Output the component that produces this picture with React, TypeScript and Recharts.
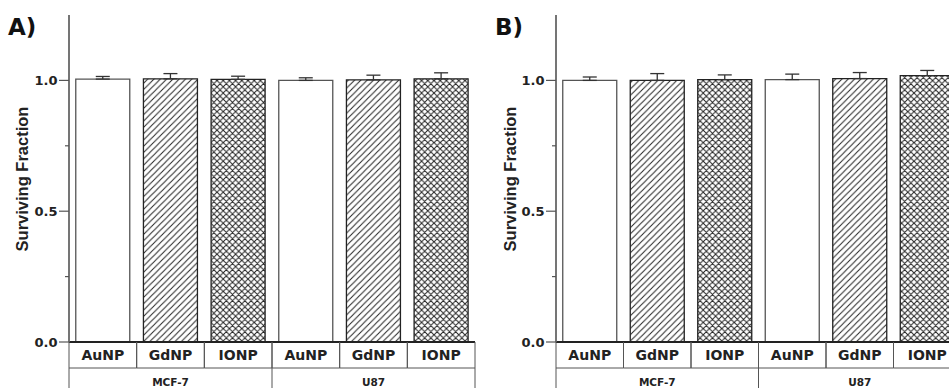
import React from 'react';
import { BarChart, Bar, XAxis, YAxis, ErrorBar, Cell } from 'recharts';

const categories = ['AuNP', 'GdNP', 'IONP', 'AuNP', 'GdNP', 'IONP'];
const cellLines = ['MCF-7', 'U87'];
const valuesA = [1.005, 1.006, 1.004, 1.0, 1.002, 1.006];
const errA = [0.01, 0.02, 0.012, 0.01, 0.018, 0.023];
const valuesB = [1.0, 1.0, 1.003, 1.003, 1.007, 1.018];
const errB = [0.013, 0.026, 0.018, 0.021, 0.023, 0.02];
const yTicks = [0, 0.25, 0.5, 0.75, 1.0];
const majorTicks = [0, 0.5, 1.0];

const FONT = '"DejaVu Sans", sans-serif';
const TITLE_FONT = '"Liberation Sans", Arial, sans-serif';
const H = 388;
const TOP = 15;
const XH = 46;

const build = (vals: number[], errs: number[]) =>
  vals.map((v, i) => ({
    key: `${cellLines[Math.floor(i / 3)]}-${categories[i]}`,
    idx: i,
    value: v,
    err: [0, errs[i]],
  }));

const dataA = build(valuesA, errA);
const dataB = build(valuesB, errB);

const makeYTick = (props: any) => {
  const { x, y, payload } = props;
  const v = payload.value;
  const major = majorTicks.some((m) => Math.abs(m - v) < 1e-9);
  return (
    <g>
      <line x1={x - (major ? 10 : 4)} x2={x} y1={y} y2={y} stroke="#555" strokeWidth={1.2} />
      {major && (
        <text x={x - 11.5} y={y + 4.8} textAnchor="end" fontFamily={FONT} fontWeight="bold" fontSize={13} fill="#222">
          {v.toFixed(1)}
        </text>
      )}
    </g>
  );
};

const makeXTick = (bw: number) => (props: any) => {
  const { x, y, payload, index } = props;
  const i = typeof index === 'number' ? index : payload.index;
  const left = x - bw / 2;
  const right = x + bw / 2;
  const row = 26;
  return (
    <g>
      <line x1={left} x2={left} y1={y} y2={y + row} stroke="#555" strokeWidth={1} />
      <line x1={right} x2={right} y1={y} y2={y + row} stroke="#555" strokeWidth={1} />
      <line x1={left} x2={right} y1={y + row} y2={y + row} stroke="#555" strokeWidth={1} />
      <text x={x} y={y + 18} textAnchor="middle" fontFamily={FONT} fontWeight="bold" fontSize={14} fill="#222">
        {categories[i]}
      </text>
      {i % 3 === 0 && <line x1={left} x2={left} y1={y + row} y2={H} stroke="#555" strokeWidth={1} />}
      {i === categories.length - 1 && <line x1={right} x2={right} y1={y + row} y2={H} stroke="#555" strokeWidth={1} />}
      {i % 3 === 1 && (
        <text x={x} y={y + 44} textAnchor="middle" fontFamily={FONT} fontWeight="bold" fontSize={10.5} fill="#222">
          {cellLines[Math.floor(i / 3)]}
        </text>
      )}
    </g>
  );
};

const D = 6.3;
const C = 6.2;

const Patterns = ({ id }: { id: string }) => (
  <defs>
    <pattern id={`diag-${id}`} patternUnits="userSpaceOnUse" width={D} height={D}>
      <rect width={D} height={D} fill="#fff" />
      <path d={`M-1,1 L1,-1 M0,${D} L${D},0 M${D - 1},${D + 1} L${D + 1},${D - 1}`} stroke="#222" strokeWidth={1} />
    </pattern>
    <pattern id={`cross-${id}`} patternUnits="userSpaceOnUse" width={C} height={C}>
      <rect width={C} height={C} fill="#fff" />
      <path
        d={`M-1,1 L1,-1 M0,${C} L${C},0 M${C - 1},${C + 1} L${C + 1},${C - 1} M-1,${C - 1} L1,${C + 1} M0,0 L${C},${C} M${C - 1},-1 L${C + 1},1`}
        stroke="#222"
        strokeWidth={1}
      />
    </pattern>
  </defs>
);

const fillFor = (i: number, id: string) => {
  const t = i % 3;
  if (t === 0) return '#ffffff';
  if (t === 1) return `url(#diag-${id})`;
  return `url(#cross-${id})`;
};

const Panel = ({ data, id, width, yWidth, marginRight }: any) => {
  const plotW = width - yWidth - marginRight;
  const bw = plotW / categories.length;
  return (
    <BarChart
      width={width}
      height={H}
      data={data}
      margin={{ top: TOP, right: marginRight, bottom: 0, left: 0 }}
      barCategoryGap="10%"
    >
      <Patterns id={id} />
      <XAxis
        dataKey="key"
        height={XH}
        tickLine={false}
        tickSize={0}
        tickMargin={0}
        axisLine={{ stroke: '#222', strokeWidth: 2 }}
        interval={0}
        tick={makeXTick(bw)}
      />
      <YAxis
        width={yWidth}
        domain={[0, 1.25]}
        ticks={yTicks}
        interval={0}
        tickLine={false}
        tickSize={0}
        tickMargin={0}
        axisLine={{ stroke: '#666', strokeWidth: 1.8 }}
        tick={makeYTick}
      />
      <Bar dataKey="value" isAnimationActive={false} strokeWidth={1.3}>
        {data.map((d: any, i: number) => (
          <Cell key={d.key} fill={fillFor(i, id)} stroke={i % 3 === 0 ? '#555' : '#222'} />
        ))}
        <ErrorBar dataKey="err" width={7} stroke="#333" strokeWidth={1.3} isAnimationActive={false} />
      </Bar>
    </BarChart>
  );
};

export default function App() {
  return (
    <div style={{ position: 'absolute', left: 0, top: 0, width: 949, height: H, background: '#fff', overflow: 'hidden' }}>
      <div style={{ position: 'absolute', left: 0, top: 0 }}>
        <Panel data={dataA} id="a" width={480} yWidth={69} marginRight={5} />
      </div>
      <div style={{ position: 'absolute', left: 480, top: 0, width: 469, height: H, overflow: 'hidden' }}>
        <Panel data={dataB} id="b" width={486} yWidth={76} marginRight={5} />
      </div>
      <svg width={949} height={H} style={{ position: 'absolute', left: 0, top: 0, pointerEvents: 'none' }}>
        <text x={8} y={35} fontFamily={FONT} fontWeight="bold" fontSize={23} fill="#111">A)</text>
        <text x={495} y={35} fontFamily={FONT} fontWeight="bold" fontSize={23} fill="#111">B)</text>
        <text transform="translate(28,179) rotate(-90)" textAnchor="middle" fontFamily={TITLE_FONT} fontWeight="bold" fontSize={16.5} fill="#222">
          Surviving Fraction
        </text>
        <text transform="translate(516,179) rotate(-90)" textAnchor="middle" fontFamily={TITLE_FONT} fontWeight="bold" fontSize={16.5} fill="#222">
          Surviving Fraction
        </text>
      </svg>
    </div>
  );
}
